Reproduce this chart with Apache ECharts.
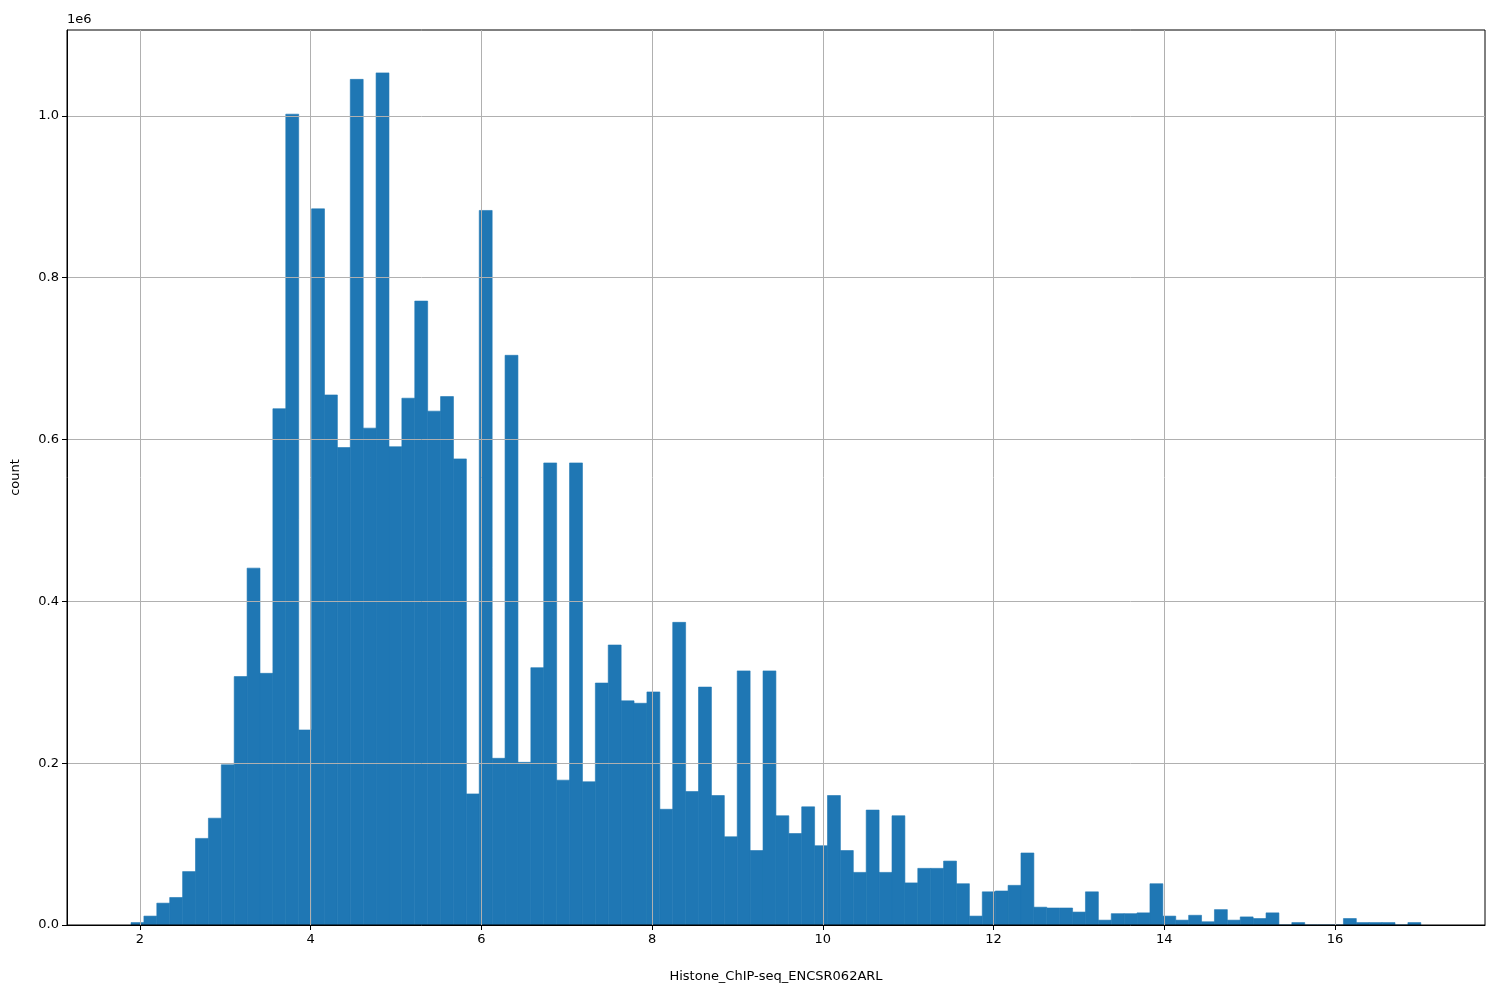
<!DOCTYPE html>
<html>
<head>
<meta charset="utf-8">
<script src="https://cdn.jsdelivr.net/npm/echarts@6/dist/echarts.min.js"></script>
<style>html,body{margin:0;padding:0;background:#fff}#main{width:1500px;height:1000px}</style>
</head>
<body>
<div id="main"></div>
<script>
// histogram bins: first edge and bin width, counts
var binStart = 1.895;
var binWidth = 0.1511;
var counts = [
  3000, 11000, 27000, 34000, 66000, 107000, 132000, 198000, 307000, 441000,
  311000, 638000, 1002000, 241000, 885000, 655000, 590000, 1045000, 614000, 1053000,
  591000, 651000, 771000, 635000, 653000, 576000, 162000, 883000, 206000, 704000,
  201000, 318000, 571000, 179000, 571000, 177000, 299000, 346000, 277000, 274000,
  288000, 143000, 374000, 165000, 294000, 160000, 109000, 314000, 92000, 314000,
  135000, 113000, 146000, 98000, 160000, 92000, 65000, 142000, 65000, 135000,
  52000, 70000, 70000, 79000, 51000, 11000, 41000, 42000, 49000, 89000,
  22000, 21000, 21000, 16000, 41000, 6000, 14000, 14000, 15000, 51000,
  11000, 6000, 12000, 4000, 19000, 6000, 10000, 8000, 15000, 0,
  3000, 0, 0, 0, 8000, 3000, 3000, 3000, 0, 3000
];
var xTicks = [2, 4, 6, 8, 10, 12, 14, 16];
var xName = 'Histone_ChIP-seq_ENCSR062ARL';

var bins = counts.map(function (c, i) {
  return [binStart + i * binWidth, binStart + (i + 1) * binWidth, c];
});

var chart = echarts.init(document.getElementById('main'));
var font = 'DejaVu Sans';
chart.setOption({
  animation: false,
  textStyle: { fontFamily: font },
  grid: { left: 67, right: 15, top: 30, bottom: 75, show: true, borderColor: '#000', borderWidth: 1, z: 10 },
  graphic: [{ type: 'text', left: 67, top: 13, style: { text: '1e6', font: '13px DejaVu Sans', fill: '#000' } }],
  xAxis: {
    type: 'value', min: 1.145, max: 17.757, z: 10,
    name: xName, nameLocation: 'middle', nameGap: 45,
    nameTextStyle: { fontSize: 13, color: '#000' },
    axisLine: { show: true, onZero: false, lineStyle: { color: '#000' } },
    axisTick: { show: true, customValues: xTicks, length: 5, lineStyle: { color: '#000' } },
    axisLabel: { customValues: xTicks, fontSize: 13, color: '#000', margin: 8 },
    splitLine: { show: true, lineStyle: { color: '#b0b0b0', width: 1 } }
  },
  yAxis: {
    type: 'value', min: 0, max: 1106000, interval: 200000, z: 10,
    name: 'count', nameLocation: 'middle', nameGap: 45,
    nameTextStyle: { fontSize: 13, color: '#000' },
    axisLine: { show: true, lineStyle: { color: '#000' } },
    axisTick: { show: true, length: 5, lineStyle: { color: '#000' } },
    axisLabel: { showMaxLabel: false, fontSize: 13, color: '#000', margin: 8, formatter: function (v) { return (v / 1e6).toFixed(1); } },
    splitLine: { show: true, showMaxLine: false, lineStyle: { color: '#b0b0b0', width: 1 } }
  },
  series: [{
    type: 'custom', z: 1,
    data: bins,
    encode: { x: [0, 1], y: 2 },
    renderItem: function (params, api) {
      var p0 = api.coord([api.value(0), api.value(2)]);
      var p1 = api.coord([api.value(1), 0]);
      return {
        type: 'rect',
        shape: { x: p0[0], y: p0[1], width: p1[0] - p0[0], height: p1[1] - p0[1] },
        style: { fill: '#1f77b4', stroke: '#1f77b4', lineWidth: 0.6 }
      };
    }
  }]
});
</script>
</body>
</html>
